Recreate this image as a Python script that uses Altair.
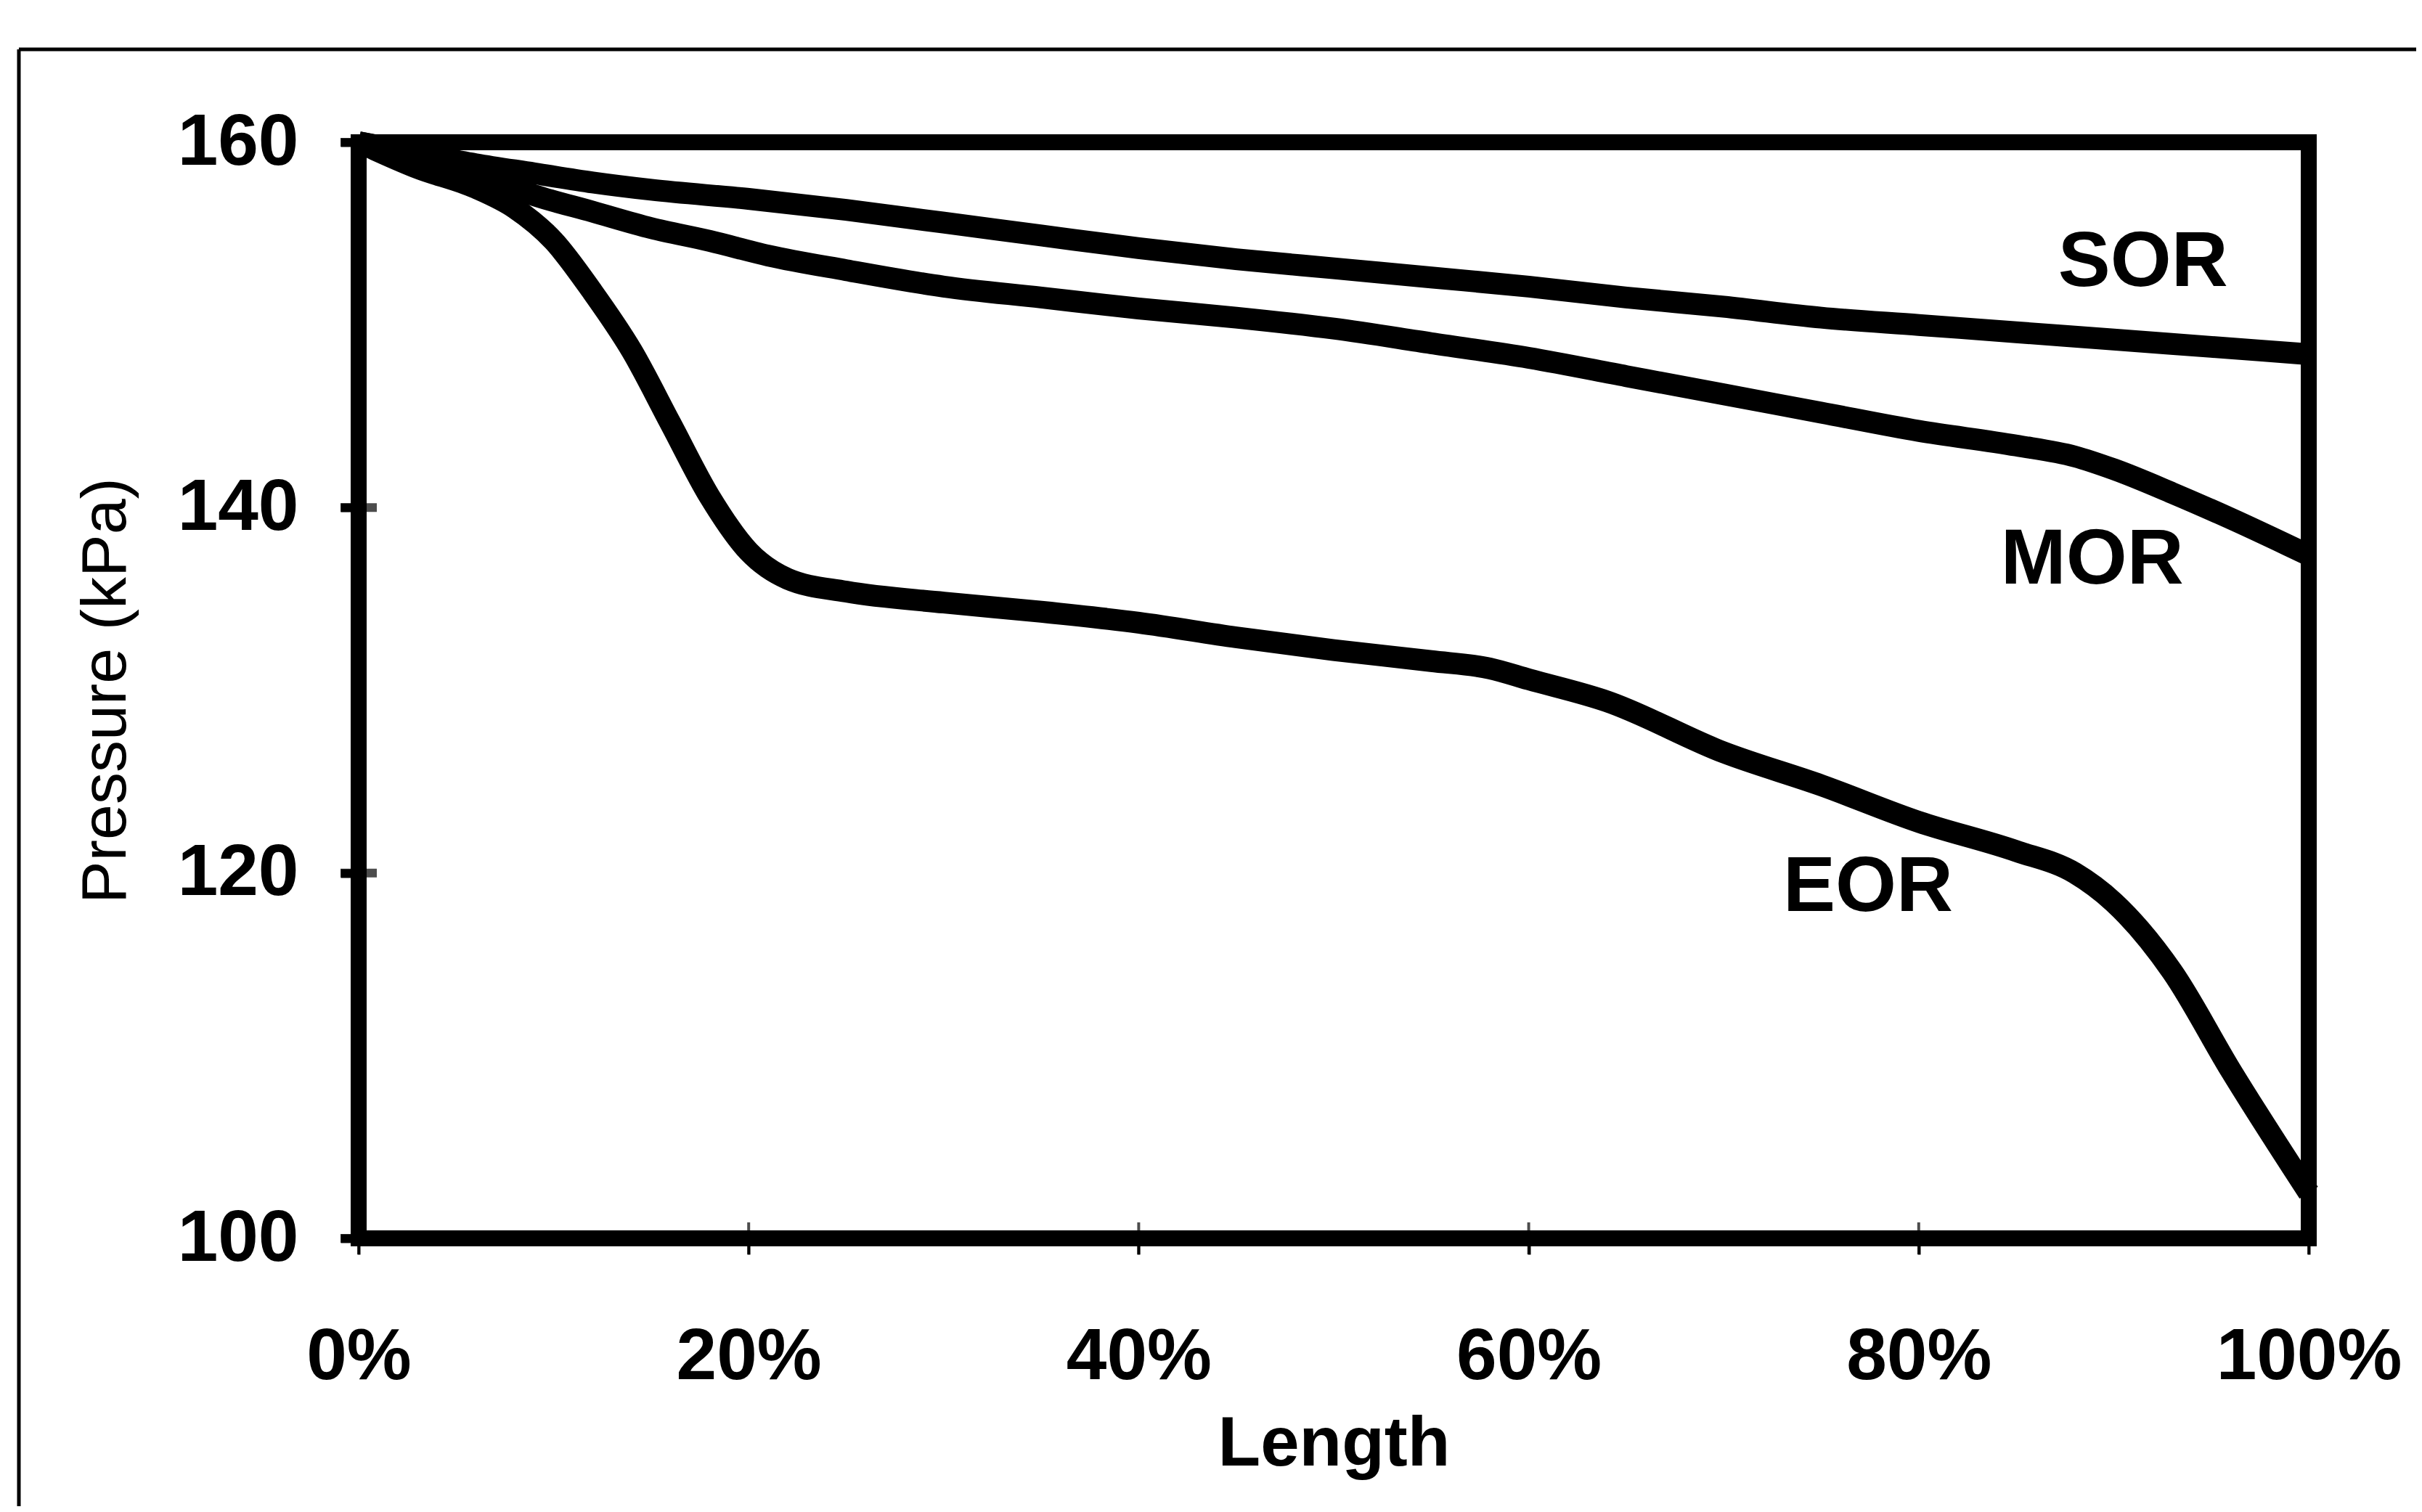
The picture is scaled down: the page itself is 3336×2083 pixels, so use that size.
import altair as alt
import pandas as pd

# ---- data ----
sor_x = [0, 3, 6, 9, 12, 15, 20, 25, 30, 35, 40, 45, 50, 55, 60, 65, 70, 75, 80, 85, 90, 95, 100]
sor_y = [160, 159.4, 158.8, 158.3, 157.8, 157.4, 156.9, 156.3, 155.6, 154.9, 154.2, 153.6, 153.1,
         152.6, 152.1, 151.5, 151.0, 150.4, 150.0, 149.6, 149.2, 148.8, 148.4]

mor_x = [0, 3, 6, 9, 12, 15, 18, 21, 25, 30, 35, 40, 45, 50, 55, 60, 65, 70, 75, 80, 85, 88, 90, 93, 96, 100]
mor_y = [160, 159.3, 158.3, 157.1, 156.2, 155.3, 154.6, 153.8, 153.0, 152.1, 151.5, 150.9, 150.4,
         149.8, 149.0, 148.2, 147.2, 146.2, 145.2, 144.2, 143.4, 142.8, 142.1, 140.8, 139.4, 137.4]

eor_x = [0, 3, 6, 8, 10, 12, 14, 16, 18, 20, 22, 25, 30, 35, 40, 45, 50, 55, 58, 60, 64, 70, 75,
         80, 85, 88, 90, 93, 96, 100]
eor_y = [160, 158.6, 157.5, 156.4, 154.6, 151.8, 148.6, 144.6, 140.6, 137.6, 136.1, 135.4, 134.8,
         134.3, 133.7, 132.9, 132.2, 131.6, 131.2, 130.6, 129.4, 126.6, 124.8, 122.8, 121.2, 120.0,
         118.4, 114.6, 109.2, 102.5]

label_names = ["SOR", "MOR", "EOR"]
label_x = [91.5, 88.9, 77.4]
label_y = [153.4, 137.1, 119.2]

x_ticks = [0, 20, 40, 60, 80, 100]
y_ticks = [100, 120, 140, 160]

# ---- tables ----
rows = []
for name, xs, ys in [("SOR", sor_x, sor_y), ("MOR", mor_x, mor_y), ("EOR", eor_x, eor_y)]:
    for i, (a, b) in enumerate(zip(xs, ys)):
        rows.append({"series": name, "length": a, "pressure": b, "order": i})
df = pd.DataFrame(rows)
labels = pd.DataFrame({"name": label_names, "length": label_x, "pressure": label_y})
xt = pd.DataFrame({"length": x_ticks})
yt = pd.DataFrame({"pressure": y_ticks})

FONT = "Liberation Sans"
W, H = 2686, 1510

x_scale = alt.Scale(domain=[0, 100], nice=False)
y_scale = alt.Scale(domain=[100, 160], nice=False, zero=False)

x_enc = alt.X(
    "length:Q",
    scale=x_scale,
    axis=alt.Axis(
        values=x_ticks, labelExpr="datum.value + '%'", title="Length",
        labelFontSize=100, labelFontWeight="bold", labelFont=FONT, labelColor="black",
        labelPadding=92, labelFlush=False, labelLimit=1000, labelOverlap=False,
        tickSize=22, tickWidth=4, tickColor="black",
        titleFontSize=96, titleFontWeight="bold", titleFont=FONT, titleColor="black",
        titlePadding=36, grid=False, domain=False,
    ),
)
y_enc = alt.Y(
    "pressure:Q",
    scale=y_scale,
    axis=alt.Axis(
        values=y_ticks, title="Pressure (kPa)",
        labelFontSize=100, labelFontWeight="bold", labelFont=FONT, labelColor="black",
        labelPadding=58, labelFlush=False, labelLimit=1000, labelOverlap=False,
        tickSize=25, tickWidth=12, tickColor="black",
        titleFontSize=88, titleFontWeight="normal", titleFont=FONT, titleColor="black",
        titlePadding=104, grid=False, domain=False,
    ),
)

lines = alt.Chart(df).mark_line(
    strokeWidth=30, color="black", interpolate="monotone", strokeCap="butt", strokeJoin="round"
).encode(x=x_enc, y=y_enc, detail="series:N", order="order:Q")

texts = alt.Chart(labels).mark_text(
    font=FONT, fontSize=108, fontWeight="bold", color="black", align="center", baseline="middle"
).encode(x=alt.X("length:Q", scale=x_scale), y=alt.Y("pressure:Q", scale=y_scale), text="name:N")

ytick_marks = alt.Chart(yt).mark_tick(color="black", thickness=12, size=50).encode(
    y=alt.Y("pressure:Q", scale=y_scale), x=alt.value(0)
)
xtick_marks = alt.Chart(xt).mark_tick(color="black", thickness=4, size=44).encode(
    x=alt.X("length:Q", scale=x_scale), y=alt.value(H)
)

frame_src = pd.DataFrame({"k": [0]})
frame_left = alt.Chart(frame_src).mark_rule(color="black", strokeWidth=5).encode(
    x=alt.value(-468), y=alt.value(-128), y2=alt.value(1887)
)
frame_top = alt.Chart(frame_src).mark_rule(color="black", strokeWidth=5).encode(
    x=alt.value(-468), x2=alt.value(2842), y=alt.value(-128)
)

chart = alt.layer(lines, texts, ytick_marks, xtick_marks, frame_left, frame_top).properties(
    width=W, height=H,
    padding={"left": 486, "top": 188, "right": 148, "bottom": 369},
    autosize=alt.AutoSizeParams(type="none"),
    background="white",
).configure_view(stroke="black", strokeWidth=22)

chart.save("out.html", embed_options={"renderer": "svg", "actions": False})
